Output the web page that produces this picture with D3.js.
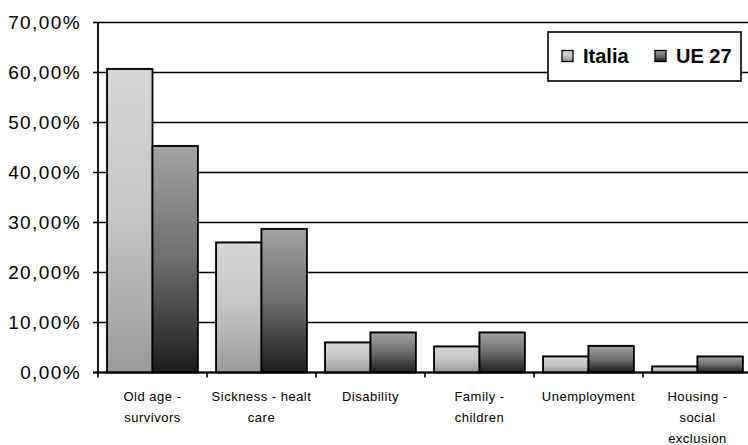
<!DOCTYPE html>
<html>
<head>
<meta charset="utf-8">
<script src="https://cdn.jsdelivr.net/npm/d3@7"></script>
<style>
  body { margin: 0; background: #fff; }
  svg { display: block; font-family: "Liberation Sans", Arial, sans-serif; }
</style>
</head>
<body>
<div id="chart"></div>
<script>
const categories = [
  ["Old age -", "survivors"],
  ["Sickness - healt", "care"],
  ["Disability"],
  ["Family -", "children"],
  ["Unemployment"],
  ["Housing -", "social", "exclusion"]
];
const seriesNames = ["Italia", "UE 27"];
const italia = [60.7, 26.0, 6.0, 5.2, 3.2, 1.2];
const ue27 = [45.3, 28.7, 8.0, 8.0, 5.3, 3.2];
const yTicks = [0, 10, 20, 30, 40, 50, 60, 70];

const dims = { width: 748, height: 445 };
const margin = { top: 22.5, left: 98, bottom: 72.5 };
const plotRight = 752;
const plotH = dims.height - margin.top - margin.bottom;

const svg = d3.select("#chart")
  .append("svg")
  .attr("width", dims.width)
  .attr("height", dims.height);

// gradients for the two series
const defs = svg.append("defs");
const grads = [
  { id: "gItalia", stops: ["#d6d6d6", "#c4c4c4", "#9a9a9a"] },
  { id: "gUe", stops: ["#a2a2a2", "#6e6e6e", "#1c1c1c"] }
];
grads.forEach(g => {
  const lg = defs.append("linearGradient")
    .attr("id", g.id)
    .attr("x1", 0).attr("y1", 0).attr("x2", 0).attr("y2", 1);
  g.stops.forEach((c, i) => {
    lg.append("stop").attr("offset", i / (g.stops.length - 1)).attr("stop-color", c);
  });
});
const fills = ["url(#gItalia)", "url(#gUe)"];

const catKeys = categories.map((c, i) => i);
const xScale = d3.scaleBand()
  .domain(catKeys)
  .range([margin.left, plotRight])
  .padding(0);
const xInner = d3.scaleBand()
  .domain(seriesNames)
  .range([0, xScale.bandwidth()])
  .paddingInner(0)
  .paddingOuter(0.2);
const yScale = d3.scaleLinear()
  .domain([0, 70])
  .range([margin.top + plotH, margin.top]);

// gridlines
svg.append("g")
  .selectAll("line")
  .data(yTicks)
  .enter()
  .append("line")
  .attr("x1", margin.left)
  .attr("x2", plotRight)
  .attr("y1", d => yScale(d))
  .attr("y2", d => yScale(d))
  .attr("stroke", "#000")
  .attr("stroke-width", 1.6);

// bars
const rows = catKeys.map(i => [
  { s: 0, name: seriesNames[0], cat: i, v: italia[i] },
  { s: 1, name: seriesNames[1], cat: i, v: ue27[i] }
]);

const groups = svg.append("g")
  .selectAll("g")
  .data(rows)
  .enter()
  .append("g")
  .attr("transform", (d, i) => `translate(${xScale(i)},0)`);

// soft shadow behind each bar
groups.selectAll("rect.shadow")
  .data(d => d)
  .enter()
  .append("rect")
  .attr("class", "shadow")
  .attr("x", d => xInner(d.name) - 1.2)
  .attr("y", d => yScale(d.v) - 1.2)
  .attr("width", xInner.bandwidth())
  .attr("height", d => yScale(0) - yScale(d.v))
  .attr("fill", "#a8a8a8");

groups.selectAll("rect.bar")
  .data(d => d)
  .enter()
  .append("rect")
  .attr("class", "bar")
  .attr("x", d => xInner(d.name))
  .attr("y", d => yScale(d.v))
  .attr("width", xInner.bandwidth())
  .attr("height", d => yScale(0) - yScale(d.v))
  .attr("fill", d => fills[d.s])
  .attr("stroke", "#000")
  .attr("stroke-width", 1.8);

// axes
svg.append("line")
  .attr("x1", margin.left).attr("x2", margin.left)
  .attr("y1", yScale(70)).attr("y2", yScale(0))
  .attr("stroke", "#000").attr("stroke-width", 1.8);
svg.append("line")
  .attr("x1", margin.left - 5).attr("x2", plotRight)
  .attr("y1", yScale(0)).attr("y2", yScale(0))
  .attr("stroke", "#000").attr("stroke-width", 1.8);

// y ticks + labels
const yAxisG = svg.append("g");
yAxisG.selectAll("line")
  .data(yTicks)
  .enter()
  .append("line")
  .attr("x1", margin.left - 5).attr("x2", margin.left)
  .attr("y1", d => yScale(d)).attr("y2", d => yScale(d))
  .attr("stroke", "#000").attr("stroke-width", 1.6);
yAxisG.selectAll("text")
  .data(yTicks)
  .enter()
  .append("text")
  .attr("x", 81)
  .attr("y", d => yScale(d))
  .attr("dy", "0.36em")
  .attr("text-anchor", "end")
  .attr("font-size", 19)
  .attr("letter-spacing", 1.4)
  .attr("fill", "#000")
  .text(d => d.toFixed(2).replace(".", ",") + "%");

// x ticks at category boundaries
svg.append("g")
  .selectAll("line")
  .data(catKeys)
  .enter()
  .append("line")
  .attr("x1", d => xScale(d)).attr("x2", d => xScale(d))
  .attr("y1", yScale(0)).attr("y2", yScale(0) + 5)
  .attr("stroke", "#000").attr("stroke-width", 1.6);

// category labels
const catLabels = svg.append("g")
  .selectAll("text")
  .data(categories)
  .enter()
  .append("text")
  .attr("text-anchor", "middle")
  .attr("font-size", 13)
  .attr("letter-spacing", 0.5)
  .attr("fill", "#000");
catLabels.each(function(lines, i) {
  const cx = xScale(i) + xScale.bandwidth() / 2;
  d3.select(this).selectAll("tspan")
    .data(lines)
    .enter()
    .append("tspan")
    .attr("x", cx)
    .attr("y", (d, j) => 400.5 + j * 21)
    .text(d => d);
});

// legend
const legend = svg.append("g").attr("transform", "translate(548,32)");
legend.append("rect")
  .attr("width", 193).attr("height", 49)
  .attr("fill", "#fff")
  .attr("stroke", "#000").attr("stroke-width", 1.6);
const legendPos = [14, 107];
const items = legend.selectAll("g.item")
  .data(seriesNames)
  .enter()
  .append("g")
  .attr("class", "item")
  .attr("transform", (d, i) => `translate(${legendPos[i]},24)`);
items.append("rect")
  .attr("x", 0).attr("y", -5.5)
  .attr("width", 11).attr("height", 11)
  .attr("fill", (d, i) => fills[i])
  .attr("stroke", "#000").attr("stroke-width", 1.3);
items.append("text")
  .attr("x", 21)
  .attr("dy", "0.36em")
  .attr("font-size", 20)
  .attr("font-weight", "bold")
  .attr("fill", "#000")
  .text(d => d);
</script>
</body>
</html>
